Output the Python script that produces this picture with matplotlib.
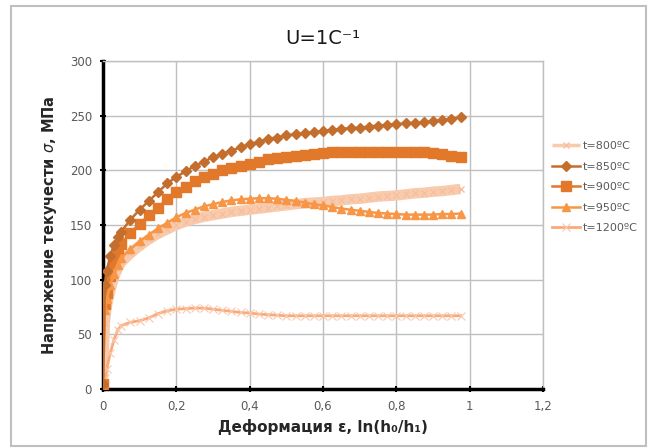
import matplotlib
matplotlib.use("Agg")
import matplotlib.pyplot as plt
from matplotlib.patches import Rectangle
from matplotlib.ticker import FuncFormatter

# strain values (shared by all curves)
eps = [0, 0.005, 0.01, 0.02, 0.03, 0.04, 0.05, 0.075, 0.1, 0.125, 0.15, 0.175,
       0.2, 0.225, 0.25, 0.275, 0.3, 0.325, 0.35, 0.375, 0.4, 0.425, 0.45, 0.475,
       0.5, 0.525, 0.55, 0.575, 0.6, 0.625, 0.65, 0.675, 0.7, 0.725, 0.75, 0.775,
       0.8, 0.825, 0.85, 0.875, 0.9, 0.925, 0.95, 0.975]

s800 = [10, 60, 75, 90, 102, 110, 116, 124, 131, 137, 142, 146,
        150, 153, 155.5, 157.5, 159, 160.5, 162, 163, 164, 165, 166, 167,
        168, 169, 170, 170.5, 171, 172, 172.5, 173.5, 174, 175, 176, 176.5,
        177, 178, 179, 179.5, 180.5, 181, 182, 183]
s850 = [5, 95, 108, 122, 132, 139, 144, 155, 164, 172, 180, 188,
        194, 199, 204, 208, 212, 215, 218, 221, 224, 226, 229, 230,
        232, 233, 234, 235, 236, 237, 238, 238.5, 239, 240, 241, 241.5,
        242, 243, 243.5, 244, 245, 246, 247, 248.5]
s900 = [5, 78, 88, 103, 115, 125, 133, 143, 151, 159, 166, 174,
        180, 185, 190, 194, 197, 200, 202, 204, 206, 208, 210, 211,
        212, 213, 214, 215, 216, 216.5, 217, 217, 217, 217, 217, 217,
        217, 217, 217, 217, 216, 215, 213.5, 212]
s950 = [0, 72, 82, 95, 105, 113, 120, 128, 135, 141, 147, 152,
        157, 161, 164, 167, 169, 171, 172.5, 173.5, 174, 174.5, 174.5, 174,
        173, 172, 170.5, 169, 168, 166.5, 165, 164, 163, 162, 161, 160.5,
        160, 159.5, 159.5, 159.5, 159.5, 160, 160, 160.5]
s1200 = [0, 10, 18, 33, 45, 54, 58, 61, 62.5, 65, 69, 71.5,
         73, 73.5, 74, 74, 73, 72, 71, 70, 69.5, 68.5, 68, 67.5,
         67, 67, 67, 67, 67, 67, 67, 67, 67, 67, 67, 67,
         67, 67, 67, 67, 67, 67, 67, 67]

labels = ["t=800ºC", "t=850ºC", "t=900ºC", "t=950ºC", "t=1200ºC"]

fig = plt.figure(figsize=(6.49, 4.48), dpi=100)
ax = fig.add_axes([0.1587, 0.1317, 0.678, 0.7321])

grey = "#BFBFBF"
txt = "#595959"

ax.plot(eps, s800, color="#F8CBAD", lw=7.5, marker="x", ms=5, mew=1,
        mec="#F6BFA0", label=labels[0], solid_capstyle="butt", zorder=3)
ax.plot(eps, s850, color="#C46E2E", lw=1.8, marker="D", ms=5,
        label=labels[1], zorder=5)
ax.plot(eps, s900, color="#E1782A", lw=1.8, marker="s", ms=7.5,
        label=labels[2], zorder=4)
ax.plot(eps, s950, color="#F79646", lw=1.8, marker="^", ms=6,
        label=labels[3], zorder=4)
ax.plot(eps, s1200, color="#F7AA7C", lw=2, marker="x", ms=6, mew=0.8,
        mec="#FAC8AA", label=labels[4], zorder=3)

ax.set_xlim(0, 1.2)
ax.set_ylim(0, 300)
ax.set_xticks([0, 0.2, 0.4, 0.6, 0.8, 1.0, 1.2])
ax.set_yticks(range(0, 301, 50))
ax.xaxis.set_major_formatter(FuncFormatter(lambda v, p: ("%g" % round(v, 2)).replace(".", ",")))
ax.grid(True, color=grey, lw=1)
ax.set_axisbelow(True)
for s in ["top", "right"]:
    ax.spines[s].set_color(grey)
    ax.spines[s].set_linewidth(1)
for s in ["left", "bottom"]:
    ax.spines[s].set_color("black")
    ax.spines[s].set_linewidth(2.5)
ax.tick_params(direction="inout", length=4, width=1.5, color="black",
               labelcolor=txt, labelsize=8.5, pad=6)

ax.set_xlabel("Деформация ε, ln(h₀/h₁)", fontsize=11, fontweight="bold",
              color="#262626", labelpad=4)
ax.set_ylabel("Напряжение текучести $\\sigma$, МПа", fontsize=10.5,
              fontweight="bold", color="#262626", labelpad=8)
fig.text(0.497, 0.915, "U=1C⁻¹", ha="center", va="center", fontsize=14,
         color="#1a1a1a")

leg = fig.legend(loc="upper left", bbox_to_anchor=(0.843, 0.695), frameon=False,
                 fontsize=8, labelcolor=txt, handlelength=2.6, labelspacing=0.95,
                 handletextpad=0.2, borderaxespad=0)
leg.get_lines()[0].set_linewidth(2.5)

fig.patches.append(Rectangle((0.017, 0.004), 0.978, 0.982, transform=fig.transFigure,
                             fill=False, edgecolor=grey, lw=1.5))

fig.savefig("out.png", dpi=100)
